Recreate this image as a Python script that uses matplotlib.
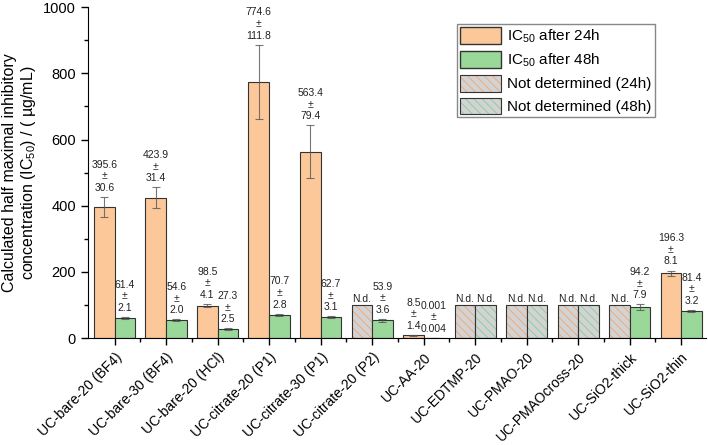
import matplotlib.pyplot as plt
import numpy as np
from matplotlib.patches import Patch
from matplotlib.ticker import MultipleLocator

plt.rcParams["font.family"] = ["Liberation Sans", "DejaVu Sans"]
plt.rcParams["mathtext.default"] = "regular"
plt.rcParams["hatch.linewidth"] = 0.6

# Data (None = not determined)
samples = ["UC-bare-20 (BF4)", "UC-bare-30 (BF4)", "UC-bare-20 (HCl)",
           "UC-citrate-20 (P1)", "UC-citrate-30 (P1)", "UC-citrate-20 (P2)",
           "UC-AA-20", "UC-EDTMP-20", "UC-PMAO-20", "UC-PMAOcross-20",
           "UC-SiO2-thick", "UC-SiO2-thin"]
ic50_24h = [395.6, 423.9, 98.5, 774.6, 563.4, None, 8.5, None, None, None, None, 196.3]
err_24h = [30.6, 31.4, 4.1, 111.8, 79.4, None, 1.4, None, None, None, None, 8.1]
ic50_48h = [61.4, 54.6, 27.3, 70.7, 62.7, 53.9, 0.001, None, None, None, 94.2, 81.4]
err_48h = [2.1, 2.0, 2.5, 2.8, 3.1, 3.6, 0.004, None, None, None, 7.9, 3.2]
nd_height = 100

orange = "#FDC899"
green = "#9AD89A"
gray = "#D3D3D3"
hatch_orange = "#F4A46E"
hatch_green = "#7FCF99"
edge = "#333333"

fig = plt.figure(figsize=(7.08, 4.45), dpi=100)
ax = fig.add_axes([0.124, 0.240, 0.873, 0.744])

x = np.arange(len(samples))
w = 0.4


def fmt(v):
    return f"{v:.3f}" if v < 0.1 else f"{v:.1f}"


def draw_series(vals, errs, offset, color, hcolor):
    for xi, v, e in zip(x, vals, errs):
        pos = xi + offset
        if v is None:
            ax.bar(pos, nd_height, w, color=gray, edgecolor=hcolor,
                   hatch="\\\\\\\\", linewidth=0)
            ax.bar(pos, nd_height, w, fill=False, edgecolor=edge, linewidth=0.8)
            ax.annotate("N.d.", (pos, nd_height), xytext=(0, 1),
                        textcoords="offset points", ha="center", va="bottom",
                        fontsize=7.5, color="#222222")
        else:
            ax.bar(pos, v, w, color=color, edgecolor=edge, linewidth=0.8)
            ax.errorbar(pos, v, yerr=e, fmt="none", ecolor="#555555",
                        elinewidth=0.8, capsize=3, capthick=0.8, alpha=0.8)
            ax.annotate(f"{fmt(v)}\n±\n{fmt(e)}", (pos, v + e), xytext=(0, 3),
                        textcoords="offset points", ha="center", va="bottom",
                        fontsize=7.5, color="#222222", linespacing=1.2)


draw_series(ic50_24h, err_24h, -w / 2, orange, hatch_orange)
draw_series(ic50_48h, err_48h, w / 2, green, hatch_green)

ax.set_xlim(-0.52, 11.48)
ax.set_ylim(0, 1000)
ax.yaxis.set_major_locator(MultipleLocator(200))
ax.yaxis.set_minor_locator(MultipleLocator(100))
ax.set_xticks(x)
ax.set_xticks(x[:-1] + 0.5, minor=True)
ax.set_xticklabels(samples, rotation=45, ha="right", rotation_mode="anchor",
                   fontsize=10)
ax.tick_params(axis="y", labelsize=10.5)
ax.tick_params(which="major", length=5, width=1)
ax.tick_params(which="minor", length=3, width=1)
ax.spines["top"].set_visible(False)
ax.spines["right"].set_visible(False)
ax.set_ylabel("Calculated half maximal inhibitory\n"
              "concentration (IC$_{50}$) / ( µg/mL)", fontsize=11.5,
              linespacing=1.1)

border = Patch(fill=False, edgecolor=edge, linewidth=0.8)
handles = [
    Patch(facecolor=orange, edgecolor=edge),
    Patch(facecolor=green, edgecolor=edge),
    (Patch(facecolor=gray, edgecolor=hatch_orange, hatch="\\\\\\\\",
           linewidth=0), border),
    (Patch(facecolor=gray, edgecolor=hatch_green, hatch="\\\\\\\\",
           linewidth=0), border),
]
labels = ["IC$_{50}$ after 24h", "IC$_{50}$ after 48h",
          "Not determined (24h)", "Not determined (48h)"]
leg = ax.legend(handles, labels, loc="upper left",
                bbox_to_anchor=(0.597, 0.949), fontsize=11,
                fancybox=False, edgecolor="#888888", framealpha=1,
                handlelength=2.7, handleheight=1.3, labelspacing=0.4,
                handletextpad=0.4, borderpad=0.2, borderaxespad=0)

fig.savefig("out.png", dpi=100)
